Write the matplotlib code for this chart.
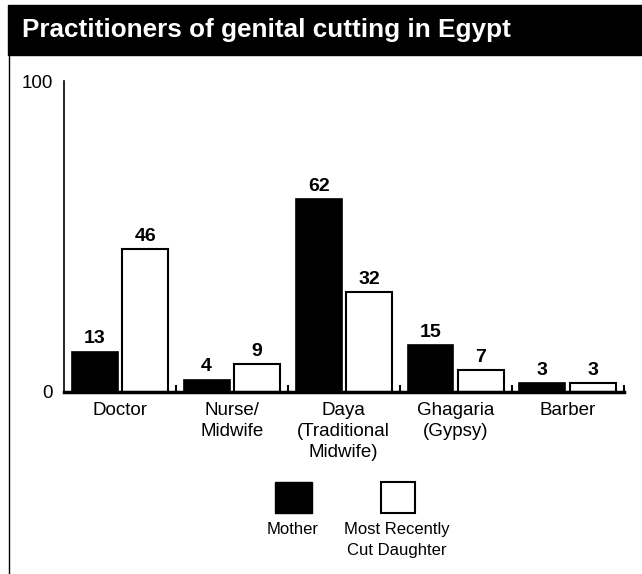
import numpy as np
import matplotlib
matplotlib.use('Agg')
import matplotlib.pyplot as plt
from matplotlib.patches import Rectangle
from matplotlib.lines import Line2D

# data
categories = ['Doctor', 'Nurse/\nMidwife', 'Daya\n(Traditional\nMidwife)', 'Ghagaria\n(Gypsy)', 'Barber']
mother = [13, 4, 62, 15, 3]
daughter = [46, 9, 32, 7, 3]
series_names = ['Mother', 'Most Recently\nCut Daughter']
title = 'Practitioners of genital cutting in Egypt'

plt.rcParams['font.family'] = ['Liberation Sans', 'DejaVu Sans']

W, H = 642, 574
fig = plt.figure(figsize=(W / 100, H / 100), dpi=100)

def fx(px):
    return px / W

def fy(py):
    return 1 - py / H

ax = fig.add_axes([fx(64), fy(392), fx(623.5) - fx(64), fy(81) - fy(392)])

x = np.arange(len(categories))
bw = 0.41
off = 0.225
b1 = ax.bar(x - off, mother, width=bw, color='black', edgecolor='black', linewidth=1.2)
b2 = ax.bar(x + off, daughter, width=bw, color='white', edgecolor='black', linewidth=1.5)

for bars, vals in [(b1, mother), (b2, daughter)]:
    for r, v in zip(bars, vals):
        ax.annotate(str(v), (r.get_x() + r.get_width() / 2, v), xytext=(0, 3),
                    textcoords='offset points', ha='center', va='bottom',
                    fontsize=14, fontweight='bold')

ax.set_xlim(-0.5, len(categories) - 0.5)
ax.set_ylim(0, 100)
ax.set_yticks([0, 100])
ax.set_xticks(x)
ax.set_xticklabels(categories, fontsize=13.5, linespacing=1.3)
ax.set_xticks(np.arange(len(categories)) + 0.5, minor=True)
ax.tick_params(axis='x', which='major', length=0, pad=7)
ax.tick_params(axis='x', which='minor', direction='in', length=5, width=1.5)
ax.tick_params(axis='y', length=0, pad=8, labelsize=13.5)

ax.spines['top'].set_visible(False)
ax.spines['right'].set_visible(False)
ax.spines['left'].set_linewidth(1.2)
ax.spines['bottom'].set_linewidth(2.5)

# title bar and frame
fig.add_artist(Rectangle((fx(8), fy(55)), 1 - fx(8), fy(5) - fy(55),
                         transform=fig.transFigure, color='black'))
fig.add_artist(Line2D([fx(8.5), fx(8.5)], [fy(55), 0], transform=fig.transFigure,
                      color='black', linewidth=1))
fig.text(fx(22), fy(37), title, color='white', fontsize=18.8, fontweight='bold', va='baseline')

# legend below
fig.add_artist(Rectangle((fx(275), fy(513)), fx(312) - fx(275), fy(482) - fy(513),
                         transform=fig.transFigure, facecolor='black', edgecolor='black'))
fig.add_artist(Rectangle((fx(381), fy(513)), fx(415) - fx(381), fy(482) - fy(513),
                         transform=fig.transFigure, facecolor='white', edgecolor='black', linewidth=1.5))
fig.text(fx(293), fy(522), series_names[0], ha='center', va='top', fontsize=12)
fig.text(fx(397), fy(522), series_names[1], ha='center', va='top', fontsize=12,
         multialignment='center', linespacing=1.5)

fig.savefig('out.png', dpi=100)
